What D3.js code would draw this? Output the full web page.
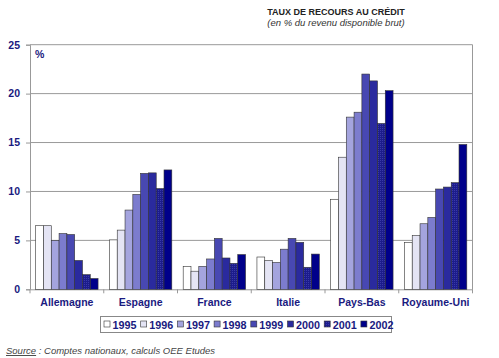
<!DOCTYPE html>
<html><head><meta charset="utf-8">
<script src="https://cdn.jsdelivr.net/npm/d3@7"></script>
<style>body{margin:0;background:#fff;}svg{display:block;font-family:"Liberation Sans",Arial,sans-serif;}</style>
</head><body>
<svg id="c" width="499" height="358"></svg>
<script>
const categories = ["Allemagne","Espagne","France","Italie","Pays-Bas","Royaume-Uni"];
const years = ["1995","1996","1997","1998","1999","2000","2001","2002"];
const v1995 = [6.5, 5.05, 2.35, 3.3, 9.2, 4.8];
const v1996 = [6.5, 6.05, 1.85, 2.95, 13.5, 5.5];
const v1997 = [5.0, 8.1, 2.35, 2.75, 17.6, 6.7];
const v1998 = [5.7, 9.7, 3.1, 4.1, 18.1, 7.35];
const v1999 = [5.6, 11.85, 5.2, 5.2, 22.0, 10.25];
const v2000 = [2.95, 11.9, 3.2, 4.8, 21.3, 10.45];
const v2001 = [1.5, 10.3, 2.65, 2.25, 16.95, 10.9];
const v2002 = [1.1, 12.2, 3.55, 3.6, 20.3, 14.8];
const seriesValues = [v1995,v1996,v1997,v1998,v1999,v2000,v2001,v2002];
const yTicks = [0,5,10,15,20,25];
const colors = ["#ffffff","#e4e4f4","#a4a4de","#7c7cce","#4848b2","#2a2a9e","#1c1c8c","#00008a"];
const navy = "#1a1a80";
const FF = "'Liberation Sans',Arial,sans-serif";

const svg = d3.select("#c");
const defs = svg.append("defs");
const pat = defs.append("pattern").attr("id","dots").attr("width",2).attr("height",2).attr("patternUnits","userSpaceOnUse");
pat.append("rect").attr("width",2).attr("height",2).attr("fill","#1c1c8c");
pat.append("rect").attr("width",1).attr("height",1).attr("fill","#3a3aa8");

const L=30, R=472.5, T=44.7, B=289.3;
const x0 = d3.scaleBand().domain(categories).range([L,R]).paddingInner(0).paddingOuter(0);
const x1 = d3.scaleBand().domain(years).range([0,x0.bandwidth()]).paddingInner(0).paddingOuter(0.73);
const y = d3.scaleLinear().domain([0,25]).range([B,T]);

// title
svg.append("text").attr("x",336).attr("y",15).attr("text-anchor","middle").attr("font-size",9).attr("font-weight","bold").attr("fill","#222").text("TAUX DE RECOURS AU CRÉDIT");
svg.append("text").attr("x",336).attr("y",25.5).attr("text-anchor","middle").attr("font-size",9.5).attr("font-style","italic").attr("fill","#333").text("(en % du revenu disponible brut)");

// grid
svg.append("g").selectAll("line").data(yTicks.filter(d=>d>0)).join("line")
  .attr("x1",L).attr("x2",R).attr("y1",d=>y(d)).attr("y2",d=>y(d)).attr("stroke","#999").attr("stroke-width",1);
svg.append("line").attr("x1",R).attr("x2",R).attr("y1",T).attr("y2",B).attr("stroke","#999");

// y axis
const yAx = svg.append("g").attr("transform",`translate(${L},0)`).call(d3.axisLeft(y).tickValues(yTicks).tickSize(4).tickPadding(6));
yAx.select(".domain").attr("stroke","#999");
yAx.selectAll(".tick line").attr("stroke","#999");
yAx.selectAll("text").attr("font-size",10.5).attr("font-weight","bold").attr("fill",navy).attr("font-family",FF);

// x axis
const xAx = svg.append("g").attr("transform",`translate(0,${B})`).call(d3.axisBottom(x0).tickSize(0).tickPadding(9));
xAx.select(".domain").attr("stroke","#999");
xAx.selectAll("text").attr("font-size",10.5).attr("font-weight","bold").attr("fill",navy).attr("font-family",FF);
svg.append("g").selectAll("line").data(categories.map((c,i)=>i).concat([categories.length])).join("line")
  .attr("x1",i=>L+i*x0.bandwidth()).attr("x2",i=>L+i*x0.bandwidth()).attr("y1",B).attr("y2",B+4).attr("stroke","#999");

svg.append("text").attr("x",35).attr("y",58).attr("font-size",10.5).attr("font-weight","bold").attr("fill",navy).text("%");

// bars
const g = svg.append("g");
categories.forEach((c,ci)=>{
  years.forEach((yr,si)=>{
    const v = seriesValues[si][ci];
    g.append("rect").attr("x",x0(c)+x1(yr)).attr("y",y(v)).attr("width",x1.bandwidth()).attr("height",B-y(v))
      .attr("fill", si===6 ? "url(#dots)" : colors[si]).attr("stroke","#333").attr("stroke-width",0.6);
  });
});

// legend
svg.append("rect").attr("x",100.5).attr("y",316.5).attr("width",291).attr("height",16).attr("fill","#fff").attr("stroke","#888").attr("stroke-width",1);
const lg = svg.append("g");
years.forEach((yr,i)=>{
  const lx = 104 + i*36.7;
  lg.append("rect").attr("x",lx).attr("y",321).attr("width",6).attr("height",6)
    .attr("fill", i===6 ? "url(#dots)" : colors[i]).attr("stroke","#333").attr("stroke-width",0.6);
  lg.append("text").attr("x",lx+8.5).attr("y",328.5).attr("font-size",10.5).attr("font-weight","bold").attr("fill",navy)
    .attr("textLength",24).attr("lengthAdjust","spacingAndGlyphs").text(yr);
});

// source
const src = svg.append("text").attr("x",6).attr("y",354).attr("font-size",9.5).attr("font-style","italic").attr("fill","#444");
src.append("tspan").attr("text-decoration","underline").text("Source");
src.append("tspan").text(" : Comptes nationaux, calculs OEE Etudes");
</script>
</body></html>
